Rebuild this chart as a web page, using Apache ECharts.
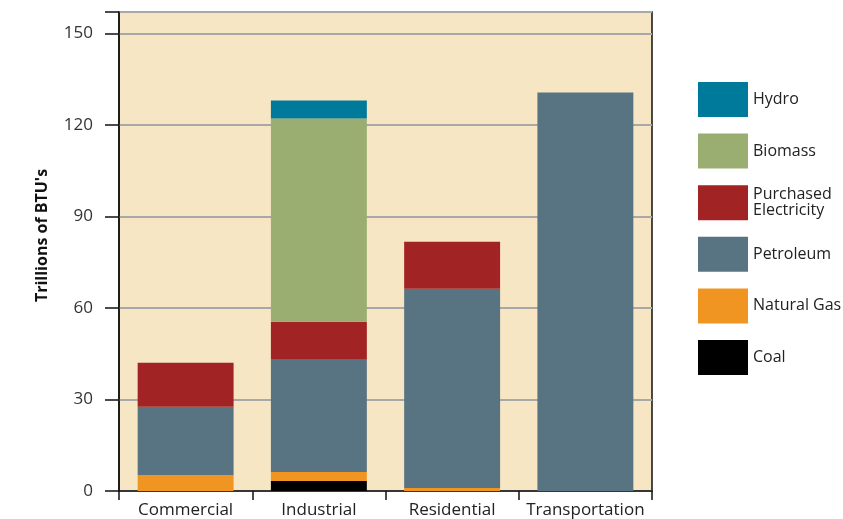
<!DOCTYPE html>
<html style="height: 100%">
<head>
    <meta charset="utf-8">
</head>
<body style="height: 100%; margin: 0; background: #fff">
    <div id="container" style="width: 843px; height: 519px"></div>

    <script type="text/javascript" src="https://cdn.jsdelivr.net/npm/echarts@6/dist/echarts.min.js"></script>

    <script type="text/javascript">
        var categories = ['Commercial', 'Industrial', 'Residential', 'Transportation'];

        // stacked bottom to top
        var coal = [0, 3.3, 0, 0];
        var naturalGas = [5.2, 2.9, 1.0, 0];
        var petroleum = [22.4, 36.8, 65.3, 130.6];
        var purchasedElectricity = [14.4, 12.5, 15.4, 0];
        var biomass = [0, 66.6, 0, 0];
        var hydro = [0, 5.9, 0, 0];

        var legendOrder = ['Hydro', 'Biomass', 'Purchased\nElectricity', 'Petroleum', 'Natural Gas', 'Coal'];

        var dom = document.getElementById('container');
        var myChart = echarts.init(dom);
        var font = '"Open Sans", "Noto Sans", sans-serif';

        function bar(name, data, color) {
            return {
                name: name,
                type: 'bar',
                stack: 'total',
                barWidth: '72%',
                data: data,
                itemStyle: { color: color },
                emphasis: { disabled: true }
            };
        }

        var option = {
            animation: false,
            textStyle: { fontFamily: font },
            grid: {
                left: 119,
                right: 191,
                top: 12,
                bottom: 28,
                show: true,
                backgroundColor: '#f7e6c4',
                borderColor: '#111',
                borderWidth: 1.5
            },
            legend: {
                orient: 'vertical',
                left: 693,
                top: 77,
                itemWidth: 50,
                itemHeight: 35,
                itemGap: 16.6,
                icon: 'rect',
                data: legendOrder,
                textStyle: {
                    fontFamily: font,
                    fontSize: 16,
                    color: '#222',
                    lineHeight: 16
                }
            },
            xAxis: {
                type: 'category',
                data: categories,
                axisLine: { lineStyle: { color: '#111', width: 1.5 } },
                axisTick: { show: true, length: 9, lineStyle: { color: '#111', width: 1.5 } },
                axisLabel: {
                    interval: 0,
                    fontFamily: font,
                    fontSize: 17,
                    color: '#222',
                    margin: 11
                }
            },
            yAxis: {
                type: 'value',
                min: 0,
                max: 157,
                interval: 30,
                name: "Trillions of BTU's",
                nameLocation: 'middle',
                nameGap: 69,
                nameTextStyle: {
                    fontFamily: font,
                    fontSize: 16,
                    fontWeight: 'bold',
                    color: '#111',
                    padding: [0, 0, 0, 32]
                },
                axisLine: { show: true, lineStyle: { color: '#111', width: 1.5 } },
                axisTick: { show: true, length: 14, lineStyle: { color: '#111', width: 1.5 } },
                axisLabel: {
                    fontFamily: font,
                    fontSize: 17,
                    color: '#333',
                    margin: 26,
                    formatter: function (v) {
                        return v % 30 === 0 ? String(v) : '';
                    }
                },
                splitLine: { lineStyle: { color: '#a8a8a8', width: 2 } }
            },
            series: [
                bar('Coal', coal, '#000000'),
                bar('Natural Gas', naturalGas, '#f09522'),
                bar('Petroleum', petroleum, '#587482'),
                bar('Purchased\nElectricity', purchasedElectricity, '#a22323'),
                bar('Biomass', biomass, '#9aae72'),
                bar('Hydro', hydro, '#007a9a')
            ]
        };

        myChart.setOption(option);
    </script>
</body>
</html>
